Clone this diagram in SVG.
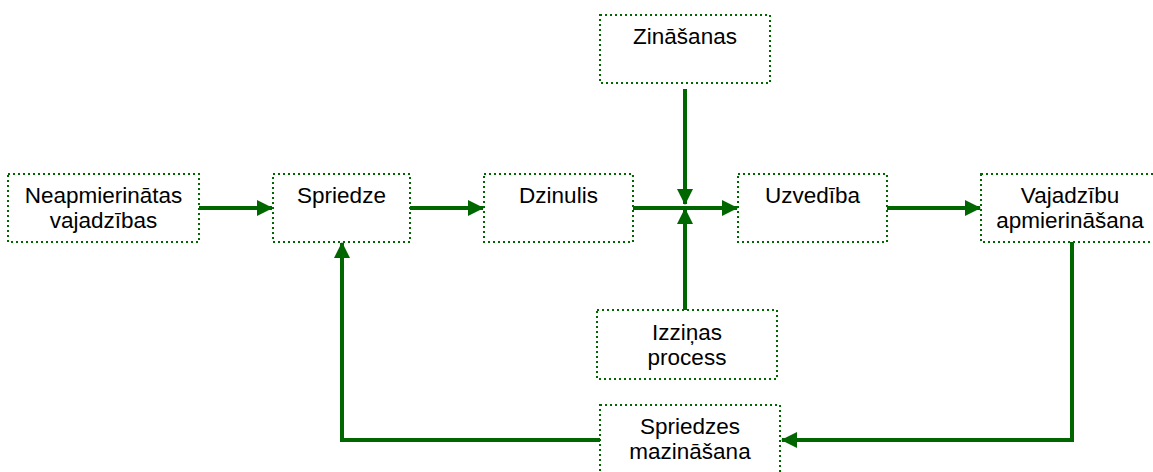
<svg xmlns="http://www.w3.org/2000/svg" width="1153" height="472" viewBox="0 0 1153 472">
  <style>
    .box { fill: #ffffff; stroke: #006600; stroke-width: 2; stroke-dasharray: 2 3; }
    .lbl { font-family: "Liberation Sans", Arial, sans-serif; font-size: 22.5px; fill: #000000; text-anchor: middle; }
    .con { fill: none; stroke: #006600; stroke-width: 4; }
  </style>
  <defs>
    <marker id="arrow" viewBox="0 0 16 16" refX="15" refY="8" markerWidth="16" markerHeight="16" markerUnits="userSpaceOnUse" orient="auto">
      <path d="M0,0 L16,8 L0,16 Z" fill="#006600"/>
    </marker>
  </defs>
  <rect width="1153" height="472" fill="#ffffff"/>

  <g id="connectors">
    <line class="con" x1="199" y1="208" x2="272" y2="208" marker-end="url(#arrow)"/>
    <line class="con" x1="410" y1="208" x2="483" y2="208" marker-end="url(#arrow)"/>
    <line class="con" x1="633" y1="208" x2="737" y2="208" marker-end="url(#arrow)"/>
    <line class="con" x1="685" y1="89" x2="685" y2="204" marker-end="url(#arrow)"/>
    <line class="con" x1="685" y1="310" x2="685" y2="209" marker-end="url(#arrow)"/>
    <line class="con" x1="887" y1="208" x2="980" y2="208" marker-end="url(#arrow)"/>
    <polyline class="con" points="1072,242 1072,440 782,440" marker-end="url(#arrow)"/>
    <polyline class="con" points="600,440 342,440 342,243" marker-end="url(#arrow)"/>
  </g>

  <g id="neapmierinatas">
    <rect class="box" x="8" y="174" width="191" height="68"/>
    <text class="lbl" x="103.5" y="203">Neapmierinātas</text>
    <text class="lbl" x="103.5" y="228">vajadzības</text>
  </g>
  <g id="spriedze">
    <rect class="box" x="273" y="174" width="137" height="68"/>
    <text class="lbl" x="341.5" y="203">Spriedze</text>
  </g>
  <g id="dzinulis">
    <rect class="box" x="484" y="174" width="149" height="68"/>
    <text class="lbl" x="558.5" y="203">Dzinulis</text>
  </g>
  <g id="zinasanas">
    <rect class="box" x="600" y="15" width="170" height="68"/>
    <text class="lbl" x="685" y="44">Zināšanas</text>
  </g>
  <g id="uzvediba">
    <rect class="box" x="738" y="174" width="149" height="68"/>
    <text class="lbl" x="812.5" y="203">Uzvedība</text>
  </g>
  <g id="vajadzibu">
    <rect class="box" x="981" y="174" width="178" height="68"/>
    <text class="lbl" x="1070" y="203">Vajadzību</text>
    <text class="lbl" x="1070" y="228">apmierināšana</text>
  </g>
  <g id="izzinas">
    <rect class="box" x="597" y="310" width="180" height="69"/>
    <text class="lbl" x="687" y="340">Izziņas</text>
    <text class="lbl" x="687" y="365">process</text>
  </g>
  <g id="spriedzes-mazinasana">
    <rect class="box" x="600" y="405" width="180" height="68"/>
    <text class="lbl" x="690" y="434">Spriedzes</text>
    <text class="lbl" x="690" y="459">mazināšana</text>
  </g>
</svg>
